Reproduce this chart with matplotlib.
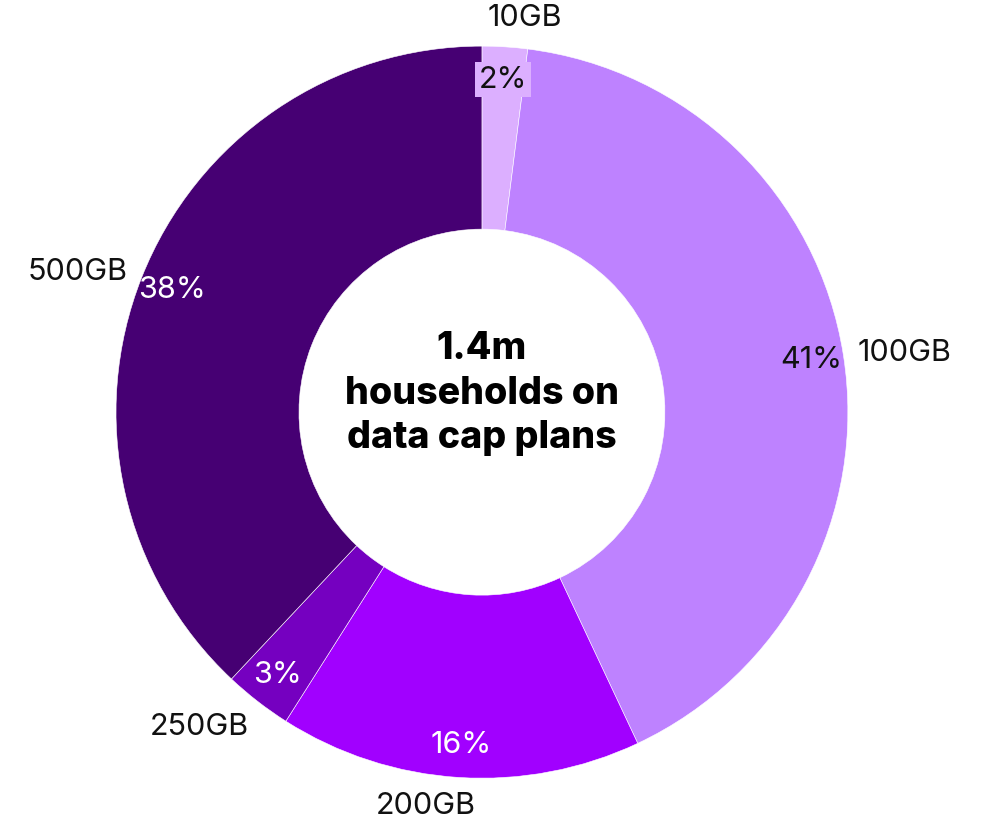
import numpy as np
import matplotlib

matplotlib.use("Agg")

import matplotlib.pyplot as plt

plans = ["10GB", "100GB", "200GB", "250GB", "500GB"]
shares = [2, 41, 16, 3, 38]
colors = ["#DCAFFF", "#BE82FF", "#A100FF", "#7500C0", "#460073"]
pct_colors = ["#111111", "#111111", "white", "white", "white"]
center_text = "1.4m\nhouseholds on\ndata cap plans"

plt.rcParams["font.family"] = ["Inter", "DejaVu Sans"]

fig = plt.figure(figsize=(9.84, 8.21), dpi=100)
ax = fig.add_axes([0, 0, 1, 1])

wedges, _ = ax.pie(
    shares,
    colors=colors,
    startangle=90,
    counterclock=False,
    radius=1.0,
    wedgeprops=dict(width=0.5, edgecolor="white", linewidth=0.4),
)

total = sum(shares)
for wedge, plan, share, tcol in zip(wedges, plans, shares, pct_colors):
    mid = np.deg2rad((wedge.theta1 + wedge.theta2) / 2)
    px, py = 0.91 * np.cos(mid), 0.91 * np.sin(mid)
    kw = {}
    if share == min(shares):
        kw["bbox"] = dict(boxstyle="square,pad=0.12", facecolor=wedge.get_facecolor(),
                          edgecolor="none")
    ax.text(px, py, f"{share / total * 100:.0f}%", ha="center", va="center",
            fontsize=22, color=tcol, **kw)

    # category names sit just outside the ring
    lx, ly = 1.04 * np.cos(mid), 1.04 * np.sin(mid)
    ha = "left" if lx > 0 else "right"
    va = "bottom" if ly > 0.5 else ("top" if ly < -0.5 else "center")
    if abs(lx) < 0.2:
        lx -= np.sign(lx) * 0.05
    ax.text(lx, ly, plan, ha=ha, va=va, fontsize=22, color="#111111")

ax.text(0, 0.05, center_text, ha="center", va="center", fontsize=27,
        fontweight="heavy", color="black", linespacing=1.3)

ax.set_xlim(-1.317, 1.372)
ax.set_ylim(-1.117, 1.126)
ax.set_aspect("auto")
ax.axis("off")

fig.savefig("out.png", dpi=100)
